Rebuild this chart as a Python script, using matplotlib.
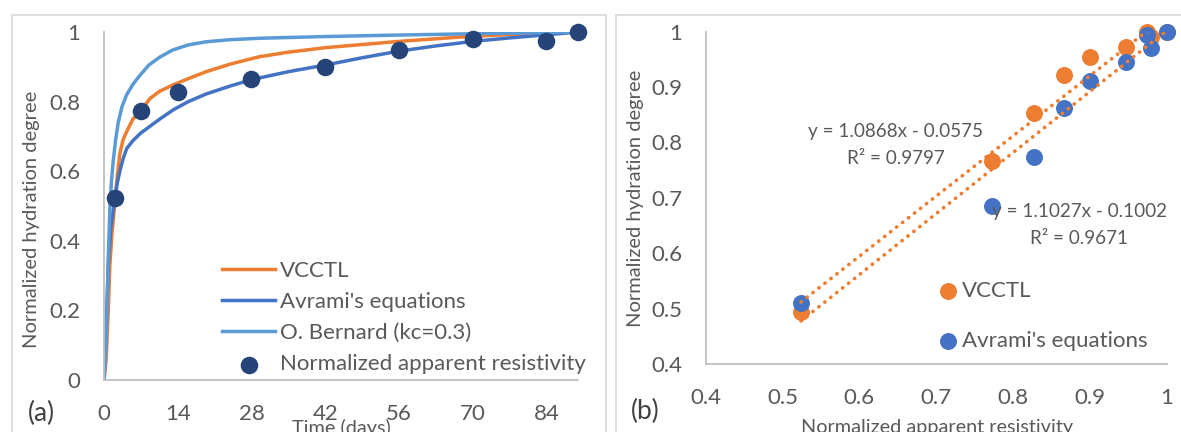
import matplotlib
matplotlib.use("Agg")
import matplotlib.pyplot as plt
from matplotlib.patches import Rectangle

plt.rcParams["font.family"] = ["Lato", "DejaVu Sans"]

# ---- panel (a): hydration degree vs time ----
days_vcctl = [0, 0.4, 0.8, 1.1, 1.5, 2, 2.5, 3, 3.6, 4.3, 5.5, 7, 8.8, 10.6, 13.1, 16,
              19.4, 24, 29.5, 35, 42, 56, 70, 84, 90]
vcctl_curve = [0, 0.06, 0.20, 0.33, 0.42, 0.50, 0.585, 0.65, 0.69, 0.714, 0.75, 0.775,
               0.81, 0.83, 0.848, 0.866, 0.886, 0.908, 0.929, 0.942, 0.955, 0.973,
               0.988, 0.997, 1.0]

days_avrami = [0, 0.3, 0.8, 1.3, 2, 2.5, 3, 3.6, 4.3, 5.5, 7, 8.8, 10.6, 13.1, 16, 19.4,
               24, 28, 35, 42, 49, 56, 63, 70, 77, 84, 90]
avrami_curve = [0, 0.10, 0.33, 0.44, 0.515, 0.565, 0.60, 0.635, 0.665, 0.688, 0.71, 0.73,
                0.75, 0.776, 0.80, 0.822, 0.845, 0.863, 0.886, 0.905, 0.926, 0.945,
                0.96, 0.973, 0.983, 0.992, 1.0]

days_bernard = [0, 0.25, 0.5, 0.8, 1.1, 1.4, 1.75, 2.2, 2.7, 3.4, 4.3, 5.5, 6.8, 8.5,
                10.6, 13, 16, 19.4, 24, 29.5, 42, 55, 70, 90]
bernard_curve = [0, 0.06, 0.16, 0.35, 0.49, 0.57, 0.63, 0.69, 0.74, 0.785, 0.82, 0.85,
                 0.875, 0.905, 0.928, 0.948, 0.963, 0.972, 0.978, 0.982, 0.987, 0.991,
                 0.995, 1.0]

meas_days = [2, 7, 14, 28, 42, 56, 70, 84, 90]
meas_resist = [0.524, 0.773, 0.827, 0.866, 0.900, 0.947, 0.979, 0.974, 1.0]

# ---- panel (b): hydration degree vs normalized resistivity ----
vcctl_pts = [0.493, 0.766, 0.854, 0.922, 0.955, 0.973, 0.991, 0.999, 1.0]
avrami_pts = [0.511, 0.686, 0.774, 0.862, 0.911, 0.946, 0.971, 0.994, 1.0]

# trendline coefficients shown in the chart (slope, intercept, R2)
fit_vcctl = (1.0868, -0.0575, 0.9797)
fit_avrami = (1.1027, -0.1002, 0.9671)

C_ORANGE = "#ED7D31"
C_BLUE = "#4472C4"
C_LBLUE = "#5B9BD5"
C_NAVY = "#264478"
C_TEXT = "#595959"
C_AXIS = "#BFBFBF"

W, H = 1181, 432
fig = plt.figure(figsize=(W / 100, H / 100), dpi=100)

# chart frames
for x0, w in [(0.0102, 0.503), (0.5216, 0.6)]:
    fig.patches.append(Rectangle((x0, -0.2), w, 0.965 + 0.2, transform=fig.transFigure,
                                 fill=False, edgecolor="#D9D9D9", linewidth=1.2))

ax1 = fig.add_axes([0.0881, 0.1204, 0.4013, 0.8055])
ax2 = fig.add_axes([0.5975, 0.1574, 0.3906, 0.7692])

for ax in (ax1, ax2):
    for side in ("top", "right"):
        ax.spines[side].set_visible(False)
    for side in ("left", "bottom"):
        ax.spines[side].set_color(C_AXIS)
        ax.spines[side].set_linewidth(1.3)
    ax.tick_params(length=0, labelsize=16, labelcolor=C_TEXT)
    ax.tick_params(axis="x", pad=17)
    ax.tick_params(axis="y", pad=17)

ax1.plot(days_vcctl, vcctl_curve, color=C_ORANGE, lw=2.5, label="VCCTL",
         solid_joinstyle="round")
ax1.plot(days_avrami, avrami_curve, color=C_BLUE, lw=2.5, label="Avrami's equations",
         solid_joinstyle="round")
ax1.plot(days_bernard, bernard_curve, color=C_LBLUE, lw=2.5, label="O. Bernard (kc=0.3)",
         solid_joinstyle="round")
ax1.scatter(meas_days, meas_resist, s=135, color=C_NAVY, zorder=5, clip_on=False,
            label="Normalized apparent resistivity")
ax1.set_xlim(0, 90)
ax1.set_ylim(0, 1)
ax1.set_xticks(range(0, 85, 14))
ax1.set_yticks([0, 0.2, 0.4, 0.6, 0.8, 1])
ax1.set_yticklabels(["0", "0.2", "0.4", "0.6", "0.8", "1"])
ax1.legend(loc="upper left", bbox_to_anchor=(222 / W, 1 - 261 / H),
           bbox_transform=fig.transFigure, frameon=False, fontsize=16,
           labelcolor=C_TEXT, handlelength=2.4, handletextpad=0.22,
           labelspacing=0.5, borderpad=0, borderaxespad=0)

ax2.scatter(meas_resist, vcctl_pts, s=125, color=C_ORANGE, zorder=3, clip_on=False,
            label="VCCTL")
ax2.scatter(meas_resist, avrami_pts, s=125, color=C_BLUE, zorder=4, clip_on=False,
            label="Avrami's equations")
xr = [min(meas_resist), max(meas_resist)]
for slope, icpt, _ in (fit_vcctl, fit_avrami):
    ax2.plot(xr, [slope * x + icpt for x in xr], color=C_ORANGE, lw=2.6,
             linestyle=(0, (0.1, 2.0)), dash_capstyle="round", zorder=6)
ax2.set_xlim(0.4, 1)
ax2.set_ylim(0.4, 1)
ax2.set_xticks([0.4, 0.5, 0.6, 0.7, 0.8, 0.9, 1])
ax2.set_xticklabels(["0.4", "0.5", "0.6", "0.7", "0.8", "0.9", "1"])
ax2.set_yticks([0.4, 0.5, 0.6, 0.7, 0.8, 0.9, 1])
ax2.set_yticklabels(["0.4", "0.5", "0.6", "0.7", "0.8", "0.9", "1"])
ax2.legend(loc="upper left", bbox_to_anchor=(941 / W, 1 - 281 / H),
           bbox_transform=fig.transFigure, frameon=False, fontsize=16,
           labelcolor=C_TEXT, handlelength=0.65, handletextpad=0.3,
           labelspacing=1.35, borderpad=0, borderaxespad=0, scatterpoints=1)

# trendline equations
for (slope, icpt, r2), (xc, yc) in zip((fit_vcctl, fit_avrami), ((896, 131), (1079, 211))):
    fig.text(xc / W, 1 - yc / H, f"y = {slope:.4f}x - {abs(icpt):.4f}",
             ha="center", va="center", fontsize=13.6, color=C_TEXT)
    fig.text(xc / W, 1 - (yc + 27) / H, f"R² = {r2:.4f}",
             ha="center", va="center", fontsize=13.6, color=C_TEXT)

# axis titles
fig.text(32 / W, 1 - 219 / H, "Normalized hydration degree", rotation=90,
         ha="center", va="center", fontsize=14.5, color=C_TEXT)
fig.text(635 / W, 1 - 198 / H, "Normalized hydration degree", rotation=90,
         ha="center", va="center", fontsize=14.5, color=C_TEXT)
fig.text(341 / W, 1 - 428 / H, "Time (days)", ha="center", va="center",
         fontsize=14.3, color=C_TEXT)
fig.text(937 / W, 1 - 428 / H, "Normalized apparent resistivity", ha="center",
         va="center", fontsize=14.3, color=C_TEXT)

# panel tags
fig.text(41 / W, 1 - 413 / H, "(a)", ha="center", va="center", fontsize=19, color="#404040")
fig.text(645 / W, 1 - 411 / H, "(b)", ha="center", va="center", fontsize=19, color="#404040")

fig.savefig("out.png", dpi=100)
